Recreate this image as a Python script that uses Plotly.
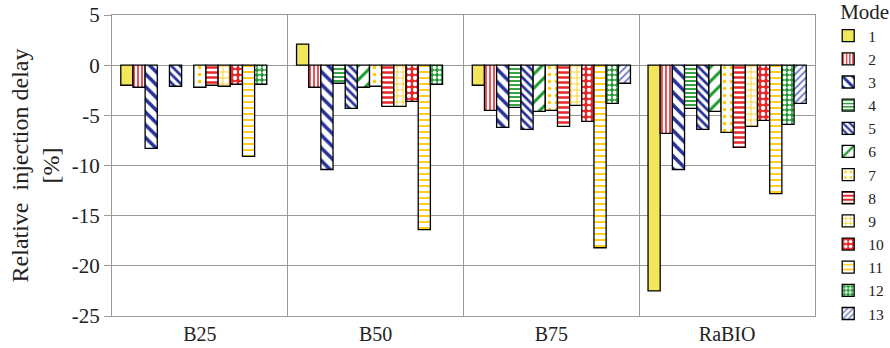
import plotly.graph_objects as go

categories = ["B25", "B50", "B75", "RaBIO"]
modes = [str(i) for i in range(1, 14)]
y_ticks = [5, 0, -5, -10, -15, -20, -25]
y_tick_labels = ["5", "0", "-5", "-10", "-15", "-20", "-25"]

# values per mode across categories (B25, B50, B75, RaBIO); None = no bar
mode_values = {
    "1": [-2.0, 2.1, -2.0, -22.5],
    "2": [-2.2, -2.2, -4.5, -6.8],
    "3": [-8.3, -10.4, -6.2, -10.4],
    "4": [None, -1.8, -4.2, -4.3],
    "5": [-2.1, -4.3, -6.4, -6.4],
    "6": [None, -2.2, -4.6, -4.6],
    "7": [-2.2, -2.1, -4.5, -6.7],
    "8": [-2.0, -4.1, -6.1, -8.2],
    "9": [-2.1, -4.1, -4.0, -6.1],
    "10": [-1.9, -3.6, -5.6, -5.5],
    "11": [-9.1, -16.4, -18.2, -12.8],
    "12": [-1.9, -1.9, -3.8, -5.9],
    "13": [None, None, -1.8, -3.8],
}

yellow = "#F2E65A"
red = "#E8262A"
blue = "#27329A"
green = "#1E9A2E"
gold = "#FFC800"
lblue = "#6E78C8"

styles = {
    "1": dict(color=yellow, shape="", fg=None, bg=None, size=8, sol=0.3),
    "2": dict(color="white", shape="|", fg=red, bg="white", size=4, sol=0.4),
    "3": dict(color="white", shape="\\", fg=blue, bg="white", size=9, sol=0.4),
    "4": dict(color="white", shape="-", fg=green, bg="white", size=4, sol=0.45),
    "5": dict(color="white", shape="\\", fg=blue, bg="white", size=6, sol=0.45),
    "6": dict(color="white", shape="/", fg=green, bg="white", size=10, sol=0.3),
    "7": dict(color="white", shape=".", fg=gold, bg="white", size=7, sol=0.2),
    "8": dict(color="white", shape="-", fg=red, bg="white", size=5, sol=0.5),
    "9": dict(color="white", shape="+", fg=gold, bg="white", size=6, sol=0.25),
    "10": dict(color=red, shape=".", fg="white", bg=red, size=6, sol=0.4),
    "11": dict(color="white", shape="-", fg=gold, bg="white", size=6, sol=0.3),
    "12": dict(color=green, shape=".", fg="white", bg=green, size=5, sol=0.45),
    "13": dict(color="white", shape="/", fg=lblue, bg="white", size=5, sol=0.35),
}

xpos = list(range(len(categories)))
serif = "Liberation Serif, Times New Roman, serif"

fig = go.Figure()
for m in modes:
    s = styles[m]
    marker = dict(color=s["color"], line=dict(color="black", width=1.3))
    if s["shape"]:
        marker["pattern"] = dict(shape=s["shape"], fgcolor=s["fg"], bgcolor=s["bg"],
                                 size=s["size"], solidity=s["sol"], fillmode="replace")
    fig.add_trace(go.Bar(x=xpos, y=mode_values[m], name=m, marker=marker))

fig.update_layout(
    width=890, height=348,
    margin=dict(l=112, r=75, t=15, b=32, autoexpand=False),
    paper_bgcolor="white", plot_bgcolor="white",
    barmode="group", bargap=0.1, bargroupgap=0,
    font=dict(family=serif, size=16, color="#222"),
    legend=dict(
        title=dict(text="Mode", font=dict(family=serif, size=21)),
        x=1.033, xanchor="left", y=1.077, yanchor="top",
        font=dict(family=serif, size=15.5), tracegroupgap=0, itemwidth=30,
        bgcolor="rgba(0,0,0,0)", indentation=-10, maxheight=348,
    ),
    xaxis=dict(
        range=[-0.5, 3.5], tickmode="array", tickvals=xpos, ticktext=categories,
        showgrid=False, showline=True, linecolor="#999", mirror=True,
        ticks="", tickfont=dict(family=serif, size=20),
        minor=dict(tickvals=[0.5, 1.5, 2.5], showgrid=True, gridcolor="#999", gridwidth=1),
    ),
    yaxis=dict(
        range=[-25, 5], tickmode="array", tickvals=y_ticks, ticktext=y_tick_labels,
        showgrid=True, gridcolor="#999", gridwidth=1,
        zeroline=False, showline=True, linecolor="#999", mirror=True,
        ticks="outside", ticklen=7, tickcolor="#999", tickfont=dict(family=serif, size=21),
        title=dict(text="Relative  injection delay<br>[%]", font=dict(family=serif, size=24), standoff=5),
    ),
)

fig.write_html("out.html")
